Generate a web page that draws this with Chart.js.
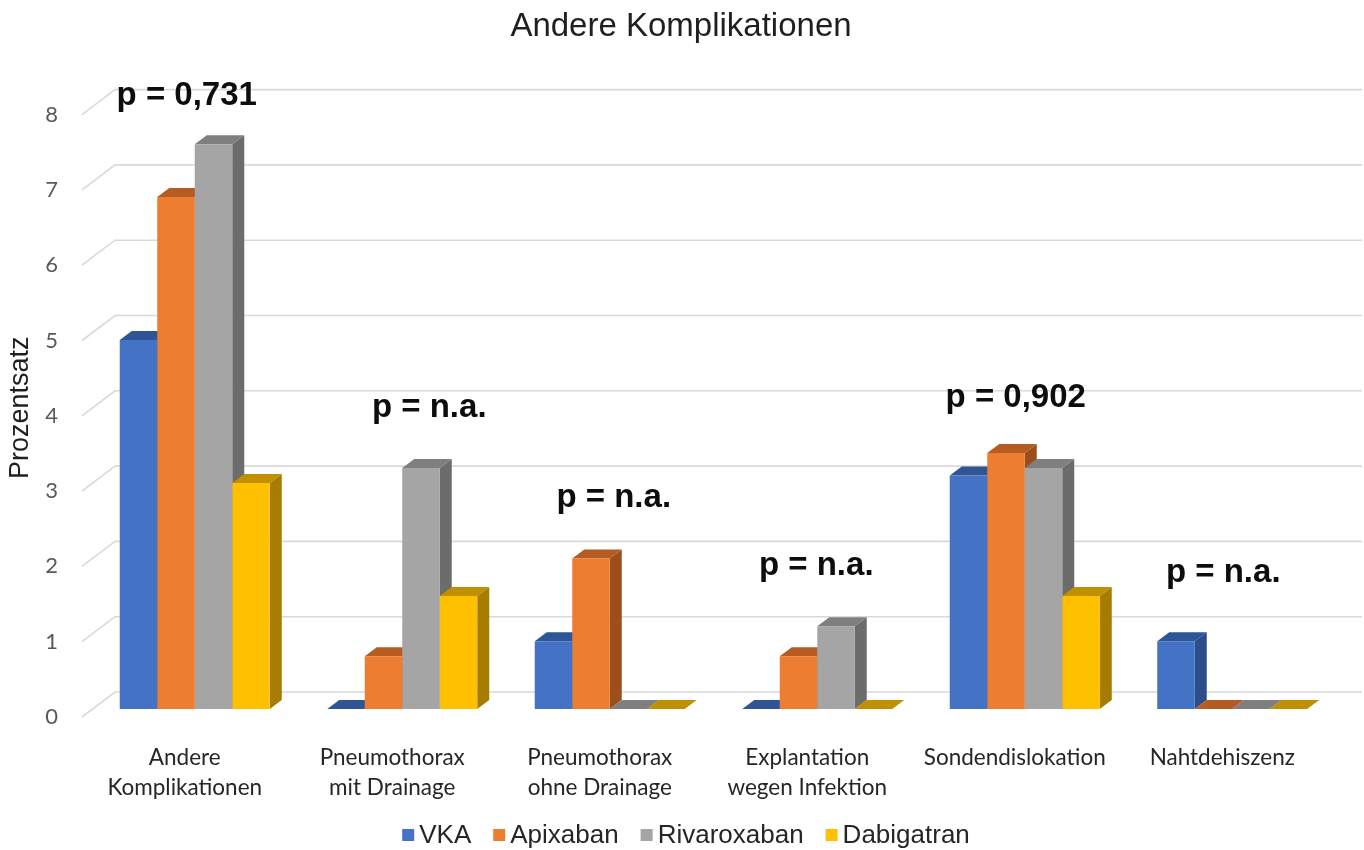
<!DOCTYPE html>
<html>
<head>
<meta charset="utf-8">
<title>Andere Komplikationen</title>
<script src="https://cdn.jsdelivr.net/npm/chart.js@4.4.1/dist/chart.umd.min.js"></script>
<style>
  html, body { margin: 0; padding: 0; background: #ffffff; }
  canvas { display: block; }
</style>
</head>
<body>
<canvas id="chart" width="1364" height="850"></canvas>
<script>
// ---- data ----
const categories = [
  ['Andere', 'Komplikationen'],
  ['Pneumothorax', 'mit Drainage'],
  ['Pneumothorax', 'ohne Drainage'],
  ['Explantation', 'wegen Infektion'],
  'Sondendislokation',
  'Nahtdehiszenz'
];
const seriesNames = ['VKA', 'Apixaban', 'Rivaroxaban', 'Dabigatran'];
const vka         = [4.9, 0.0, 0.9, 0.0, 3.1, 0.9];
const apixaban    = [6.8, 0.7, 2.0, 0.7, 3.4, 0.0];
const rivaroxaban = [7.5, 3.2, 0.0, 1.1, 3.2, 0.0];
const dabigatran  = [3.0, 1.5, 0.0, 0.0, 1.5, 0.0];
const pValues = ['p = 0,731', 'p = n.a.', 'p = n.a.', 'p = n.a.', 'p = 0,902', 'p = n.a.'];
const yTickValues = [0, 1, 2, 3, 4, 5, 6, 7, 8];
const chartTitle = 'Andere Komplikationen';

// ---- styles ----
const frontColors = ['#4472C4', '#ED7D31', '#A5A5A5', '#FFC000'];
const topColors   = ['#2F5597', '#B65B22', '#7F7F7F', '#BF9000'];
const sideColors  = ['#2C4D87', '#9C4F1D', '#6C6C6C', '#A67D00'];

// where each p-label sits: horizontal shift from the category centre, height in axis units
const pLabelPlacement = [
  { dx: -8, at: 8.02 },
  { dx: 27, at: 3.88 },
  { dx: 4,  at: 2.68 },
  { dx: -1, at: 1.78 },
  { dx: -9, at: 4.01 },
  { dx: -9, at: 1.69 }
];

// pseudo-3D look: back wall with gridlines, extruded columns, free labels, title and legend
const columns3d = {
  id: 'columns3d',
  beforeDatasetsDraw(chart, args, opts) {
    const { ctx, chartArea } = chart;
    const y = chart.scales.y;
    const wallLeft = chartArea.left + 24;
    const wallRight = chartArea.right + 26;
    const frontX = chartArea.left - 9;

    // back wall + side wall gridlines
    ctx.save();
    ctx.strokeStyle = '#D9D9D9';
    ctx.lineWidth = 1.6;
    yTickValues.forEach(v => {
      const py = y.getPixelForValue(v);
      ctx.beginPath();
      ctx.moveTo(frontX, py + 8);
      ctx.lineTo(wallLeft, py - 17);
      ctx.lineTo(wallRight, py - 17);
      ctx.stroke();
    });
    ctx.restore();

    // side and top faces, left to right inside every group
    const dx = opts.dx, dy = opts.dy;
    const nCat = chart.data.labels.length;
    ctx.save();
    for (let c = 0; c < nCat; c++) {
      chart.data.datasets.forEach((ds, di) => {
        const el = chart.getDatasetMeta(di).data[c];
        if (!el) return;
        const p = el.getProps(['x', 'y', 'base', 'width'], true);
        const l = p.x - p.width / 2, r = p.x + p.width / 2;
        const t = Math.min(p.y, p.base), b = p.base;
        // side face
        if (b - t > 0.5) {
          ctx.fillStyle = sideColors[di];
          ctx.beginPath();
          ctx.moveTo(r, t);
          ctx.lineTo(r + dx, t + dy);
          ctx.lineTo(r + dx, b + dy);
          ctx.lineTo(r, b);
          ctx.closePath();
          ctx.fill();
        }
        // top face
        ctx.fillStyle = topColors[di];
        ctx.beginPath();
        ctx.moveTo(l, t);
        ctx.lineTo(r, t);
        ctx.lineTo(r + dx, t + dy);
        ctx.lineTo(l + dx, t + dy);
        ctx.closePath();
        ctx.fill();
      });
    }
    ctx.restore();
  },
  afterDatasetsDraw(chart) {
    const { ctx } = chart;
    const x = chart.scales.x, y = chart.scales.y;
    ctx.save();
    ctx.font = 'bold 33px "Liberation Sans", Arial, sans-serif';
    ctx.fillStyle = '#0D0D0D';
    ctx.textAlign = 'center';
    ctx.textBaseline = 'alphabetic';
    pValues.forEach((txt, i) => {
      const pl = pLabelPlacement[i];
      ctx.fillText(txt, x.getPixelForValue(i) + pl.dx, y.getPixelForValue(pl.at));
    });
    ctx.restore();
  },
  afterDraw(chart) {
    const { ctx } = chart;
    ctx.save();
    // title
    ctx.font = '33px "Liberation Sans", Arial, sans-serif';
    ctx.fillStyle = '#1F1F1F';
    ctx.textAlign = 'center';
    ctx.textBaseline = 'middle';
    ctx.fillText(chartTitle, 681, 27);

    // legend row along the bottom
    ctx.font = '26px "Liberation Sans", Arial, sans-serif';
    ctx.textBaseline = 'middle';
    ctx.textAlign = 'left';
    const box = 12, boxGap = 5, itemGap = 22;
    const items = chart.data.datasets.map((ds, i) => ({
      text: ds.label, color: frontColors[i], w: box + boxGap + ctx.measureText(ds.label).width
    }));
    const total = items.reduce((s, it) => s + it.w, 0) + itemGap * (items.length - 1);
    let cx = 686 - total / 2;
    const cy = 835;
    items.forEach(it => {
      ctx.fillStyle = it.color;
      ctx.fillRect(cx, cy - box / 2, box, box);
      ctx.fillStyle = '#262626';
      ctx.fillText(it.text, cx + box + boxGap, cy + 1);
      cx += it.w + itemGap;
    });
    ctx.restore();
  }
};

const seriesValues = [vka, apixaban, rivaroxaban, dabigatran];

new Chart(document.getElementById('chart'), {
  type: 'bar',
  data: {
    labels: categories,
    datasets: seriesNames.map((name, i) => ({
      label: name,
      data: seriesValues[i],
      backgroundColor: frontColors[i],
      borderWidth: 0,
      barPercentage: 1.0,
      categoryPercentage: 0.723
    }))
  },
  options: {
    responsive: false,
    animation: false,
    devicePixelRatio: 1,
    layout: { padding: { top: 106.6, right: 28, bottom: 0, left: 0 } },
    plugins: {
      legend: { display: false },
      tooltip: { enabled: false },
      title: { display: false },
      columns3d: { dx: 12, dy: -9 }
    },
    scales: {
      x: {
        grid: { display: false, drawTicks: false },
        border: { display: false },
        ticks: {
          color: '#262626',
          font: { family: 'Lato, "Open Sans", sans-serif', size: 22.5, lineHeight: 1.34 },
          padding: 34,
          labelOffset: -10,
          maxRotation: 0,
          autoSkip: false
        },
        afterFit(scale) { scale.height = 141; }
      },
      y: {
        min: 0,
        max: 8,
        grid: { display: false, drawTicks: false },
        border: { display: false },
        ticks: {
          stepSize: 1,
          color: '#595959',
          font: { family: 'Lato, "Open Sans", sans-serif', size: 22 },
          padding: 33,
          labelOffset: 8
        },
        title: {
          display: true,
          text: 'Prozentsatz',
          color: '#1F1F1F',
          font: { family: '"Liberation Sans", Arial, sans-serif', size: 27, lineHeight: 1.2 },
          padding: { top: 4, bottom: 0 }
        },
        afterFit(scale) { scale.width = 91; }
      }
    }
  },
  plugins: [columns3d]
});
</script>
</body>
</html>
